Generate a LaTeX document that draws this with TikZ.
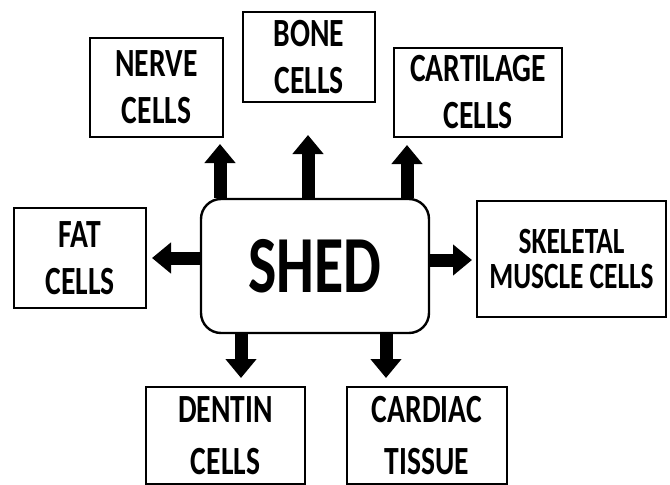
\documentclass[tikz,border=0pt]{standalone}
\usepackage{fontspec}
\newfontfamily\cellfont[FakeStretch=0.74]{Carlito}
\usetikzlibrary{arrows.meta}

\begin{document}
\begin{tikzpicture}[x=1pt, y=-1pt,
    cellbox/.style={draw, line width=2.4pt, inner sep=0pt, align=center,
        font=\cellfont\bfseries\fontsize{40}{47}\selectfont},
    blockarrow/.style={line width=13pt, -{Triangle[width=30pt, length=19pt]}}]

    \useasboundingbox (0,0) rectangle (670,485);

    % Central box
    \node[draw, line width=2.4pt, rounded corners=20pt, minimum width=228pt,
        minimum height=134pt, inner sep=0pt,
        font=\cellfont\bfseries\fontsize{81}{84}\selectfont] (shed) at (315,266) {SHED};

    % Cell boxes
    \node[cellbox, minimum width=133pt, minimum height=99pt] (nerve) at (156.5,87.5) {NERVE\\CELLS};
    \node[cellbox, minimum width=132pt, minimum height=90pt] (bone) at (309,57) {BONE\\CELLS};
    \node[cellbox, minimum width=168pt, minimum height=89pt] (cartilage) at (478,92.5) {CARTILAGE\\CELLS};
    \node[cellbox, minimum width=132pt, minimum height=100pt] (fat) at (80,258) {FAT\\CELLS};
    \node[cellbox, minimum width=189pt, minimum height=116pt,
        font=\cellfont\bfseries\fontsize{37}{35}\selectfont] (skeletal) at (571.5,259) {SKELETAL\\MUSCLE CELLS};
    \node[cellbox, minimum width=159pt, minimum height=97pt, font=\cellfont\bfseries\fontsize{40}{52}\selectfont] (dentin) at (225.5,435.5) {DENTIN\\CELLS};
    \node[cellbox, minimum width=160pt, minimum height=97pt, font=\cellfont\bfseries\fontsize{40}{52}\selectfont] (cardiac) at (427,435.5) {CARDIAC\\TISSUE};

    % Arrow tips
    \coordinate (tipnerve) at (220,144);
    \coordinate (tipbone) at (308,135);
    \coordinate (tipcartilage) at (407,145);
    \coordinate (tipfat) at (152,258);
    \coordinate (tipskeletal) at (472,260);
    \coordinate (tipdentin) at (241,378);
    \coordinate (tipcardiac) at (386,378);

    % Arrows out of SHED
    \draw[blockarrow] (shed.north -| tipnerve) -- (tipnerve);
    \draw[blockarrow] (shed.north -| tipbone) -- (tipbone);
    \draw[blockarrow] (shed.north -| tipcartilage) -- (tipcartilage);
    \draw[blockarrow] (shed.west |- tipfat) -- (tipfat);
    \draw[blockarrow] (shed.east |- tipskeletal) -- (tipskeletal);
    \draw[blockarrow] (shed.south -| tipdentin) -- (tipdentin);
    \draw[blockarrow] (shed.south -| tipcardiac) -- (tipcardiac);

\end{tikzpicture}
\end{document}
